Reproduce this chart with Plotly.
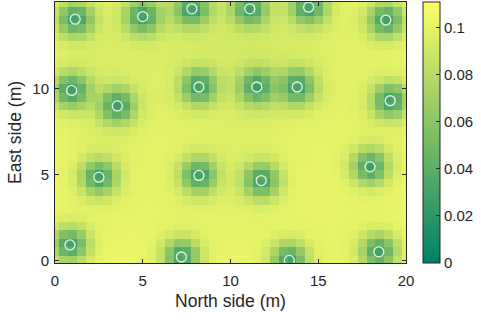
import numpy as np
import plotly.graph_objects as go

# Sensor locations (m)
sensor_x = [1.15, 5.0, 7.8, 11.1, 14.45, 18.85, 0.95, 3.55, 8.2, 11.5, 13.8, 19.1,
            2.5, 8.2, 11.75, 17.95, 0.85, 7.2, 13.35, 18.45]
sensor_y = [14.05, 14.2, 14.65, 14.65, 14.75, 14.0, 9.9, 9.0, 10.1, 10.1, 10.1, 9.3,
            4.85, 4.95, 4.65, 5.45, 0.9, 0.2, 0.0, 0.5]

# Grid of the field (0.5 m cells)
grid_x = np.linspace(0, 20, 41)
grid_y = np.linspace(0, 15, 31)

# Field model parameters (value far from sensors, dip near sensors)
V_MAX = 0.110
DEEP, S_DEEP = 0.72, 0.7
WIDE, S_WIDE = 0.07, 2.4

X, Y = np.meshgrid(grid_x, grid_y)
field = np.full(X.shape, V_MAX)
for sx, sy in zip(sensor_x, sensor_y):
    d2 = (X - sx) ** 2 + (Y - sy) ** 2
    field *= (1 - DEEP * np.exp(-d2 / (2 * S_DEEP ** 2))) * (1 - WIDE * np.exp(-d2 / (2 * S_WIDE ** 2)))

cbar_ticks = [0, 0.02, 0.04, 0.06, 0.08, 0.1]
cbar_labels = ["0", "0.02", "0.04", "0.06", "0.08", "0.1"]
x_ticks = [0, 5, 10, 15, 20]
y_ticks = [0, 5, 10]

FONT = "Liberation Sans, Arial, Helvetica, sans-serif"
INK = "#262626"

fig = go.Figure()
fig.add_trace(go.Heatmap(
    x=grid_x, y=grid_y, z=field,
    zmin=0, zmax=0.111,
    colorscale=[[0, "rgb(0,128,102)"], [1, "rgb(255,255,102)"]],
    colorbar=dict(
        thickness=17, len=1, lenmode="fraction", x=1.048, xanchor="left",
        y=0.5, yanchor="middle", outlinewidth=1, outlinecolor=INK,
        tickvals=cbar_ticks, ticktext=cbar_labels, ticks="inside", ticklen=4,
        tickcolor=INK, tickfont=dict(family=FONT, size=15, color=INK), xpad=0, ypad=0,
    ),
    hoverinfo="skip",
))
fig.add_trace(go.Scatter(
    x=sensor_x, y=sensor_y, mode="markers",
    marker=dict(symbol="circle-open", size=10, color="rgba(230,242,230,1)", line=dict(width=1.3)),
    showlegend=False, hoverinfo="skip",
))

axis_common = dict(
    showline=True, linecolor=INK, linewidth=1, mirror="ticks",
    ticks="inside", ticklen=4, tickcolor=INK, showgrid=False, zeroline=False,
    tickfont=dict(family=FONT, size=15, color=INK), automargin=False,
)
fig.update_xaxes(range=[0, 20], tickvals=x_ticks, ticklabelstandoff=4,
                 title=dict(text="North side (m)", font=dict(family=FONT, size=17.5, color=INK), standoff=6),
                 **axis_common)
fig.update_yaxes(range=[-0.15, 15.05], tickvals=y_ticks, ticklabelstandoff=2,
                 title=dict(text="East side (m)", font=dict(family=FONT, size=17.5, color=INK), standoff=6),
                 **axis_common)
fig.update_layout(
    width=481, height=322,
    margin=dict(l=55, r=75, t=2, b=59),
    paper_bgcolor="white", plot_bgcolor="white",
    showlegend=False,
)
fig.write_html("out.html", config={"displayModeBar": False},
               post_script="document.body.style.margin='0';")
